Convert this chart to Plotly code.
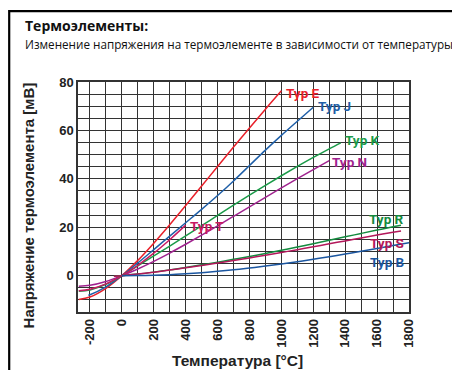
import plotly.graph_objects as go

# ---- data (thermo-voltage in mV vs temperature in °C) ----
temp_E = [-270, -200, -100, 0, 100, 200, 300, 400, 500, 600, 700, 800, 900, 1000]
volt_E = [-9.835, -8.825, -5.237, 0, 6.319, 13.421, 21.036, 28.946, 37.005, 45.093, 53.112, 61.017, 68.787, 76.373]

temp_J = [-210, -200, -100, 0, 100, 200, 300, 400, 500, 600, 700, 800, 900, 1000, 1100, 1200]
volt_J = [-8.095, -7.890, -4.633, 0, 5.269, 10.779, 16.327, 21.848, 27.393, 33.102, 39.132, 45.494, 51.877, 57.953, 63.792, 69.553]

temp_K = [-270, -200, -100, 0, 100, 200, 300, 400, 500, 600, 700, 800, 900, 1000, 1100, 1200, 1300, 1372]
volt_K = [-6.458, -5.891, -3.554, 0, 4.096, 8.138, 12.209, 16.397, 20.644, 24.905, 29.129, 33.275, 37.326, 41.276, 45.119, 48.838, 52.410, 54.886]

temp_N = [-270, -200, -100, 0, 100, 200, 300, 400, 500, 600, 700, 800, 900, 1000, 1100, 1200, 1300]
volt_N = [-4.345, -3.990, -2.407, 0, 2.774, 5.913, 9.341, 12.974, 16.748, 20.613, 24.527, 28.455, 32.371, 36.256, 40.087, 43.846, 47.513]

temp_T = [-270, -200, -100, 0, 100, 200, 300, 400]
volt_T = [-6.258, -5.603, -3.379, 0, 4.279, 9.288, 14.862, 20.872]

temp_R = [-50, 0, 100, 200, 300, 400, 500, 600, 700, 800, 900, 1000, 1100, 1200, 1300, 1400, 1500, 1600, 1700, 1750]
volt_R = [-0.226, 0, 0.647, 1.469, 2.401, 3.408, 4.471, 5.583, 6.743, 7.950, 9.205, 10.506, 11.850, 13.228, 14.629, 16.040, 17.451, 18.849, 20.222, 20.877]

temp_S = [-50, 0, 100, 200, 300, 400, 500, 600, 700, 800, 900, 1000, 1100, 1200, 1300, 1400, 1500, 1600, 1700, 1750]
volt_S = [-0.236, 0, 0.646, 1.441, 2.323, 3.259, 4.233, 5.239, 6.275, 7.345, 8.449, 9.587, 10.757, 11.951, 13.159, 14.373, 15.582, 16.777, 17.947, 18.503]

temp_B = [0, 100, 200, 300, 400, 500, 600, 700, 800, 900, 1000, 1100, 1200, 1300, 1400, 1500, 1600, 1700, 1800]
volt_B = [0, 0.033, 0.178, 0.431, 0.787, 1.242, 1.792, 2.431, 3.154, 3.957, 4.834, 5.780, 6.786, 7.848, 8.956, 10.099, 11.263, 12.433, 13.591]

series_names = ["Typ E", "Typ J", "Typ K", "Typ N", "Typ T", "Typ R", "Typ S", "Typ B"]
x_tick_vals = [-200, 0, 200, 400, 600, 800, 1000, 1200, 1400, 1600, 1800]
x_tick_text = ["-200", "0", "200", "400", "600", "800", "1000", "1200", "1400", "1600", "1800"]
y_tick_vals = [0, 20, 40, 60, 80]
y_tick_text = ["0", "20", "40", "60", "80"]

title_text = "Термоэлементы:"
subtitle_text = "Изменение напряжения на термоэлементе в зависимости от температуры"
x_title = "Температура [°C]"
y_title = "Напряжение термоэлемента [мВ]"

# ---- styling ----
colors = {
    "Typ E": "#e8202a",
    "Typ J": "#1f5fa8",
    "Typ K": "#1a9a48",
    "Typ N": "#a0238f",
    "Typ T": "#c81a62",
    "Typ R": "#138a3e",
    "Typ S": "#b3175a",
    "Typ B": "#1b56a0",
}
data = {
    "Typ E": (temp_E, volt_E),
    "Typ J": (temp_J, volt_J),
    "Typ K": (temp_K, volt_K),
    "Typ N": (temp_N, volt_N),
    "Typ T": (temp_T, volt_T),
    "Typ R": (temp_R, volt_R),
    "Typ S": (temp_S, volt_S),
    "Typ B": (temp_B, volt_B),
}
# label anchor (x, y, xanchor) in data units
label_pos = {
    "Typ E": (1015, 75.5, "left"),
    "Typ J": (1215, 70.0, "left"),
    "Typ K": (1385, 56.0, "left"),
    "Typ N": (1305, 46.9, "left"),
    "Typ T": (415, 20.6, "left"),
    "Typ R": (1782, 23.5, "right"),
    "Typ S": (1782, 13.6, "right"),
    "Typ B": (1782, 5.8, "right"),
}

X0, X1 = -275, 1800
Y0, Y1 = -15, 80

# page has an 8px body margin: figure starts at (8, 8) in the window
OFF = 8
W, H = 460 - OFF, 370 - OFF
# plot-area edges in window pixels
PL, PR, PT, PB = 77.5, 409.0, 81.7, 312.5
L, R, T, B = PL - OFF, 460 - PR, PT - OFF, 370 - PB
pw, ph = PR - PL, PB - PT

def px_to_paper_x(px):
    return (px - PL) / pw

def py_to_paper_y(py):
    return (PB - py) / ph

fig = go.Figure()
for name in series_names:
    xs, ys = data[name]
    fig.add_trace(go.Scatter(x=xs, y=ys, mode="lines", name=name,
                             line=dict(color=colors[name], width=1.5, shape="spline"),
                             showlegend=False, hoverinfo="skip"))

grid_col = "#333333"
fig.update_xaxes(range=[X0, X1], tickvals=x_tick_vals, ticktext=x_tick_text,
                 tickangle=-90, showgrid=True, gridcolor=grid_col, gridwidth=1.4,
                 minor=dict(tickvals=list(range(-200, 1801, 100)), showgrid=True,
                            gridcolor=grid_col, gridwidth=1.4),
                 showline=True, linecolor=grid_col, linewidth=1.5, mirror=True,
                 zeroline=False, ticks="", ticklen=0,
                 tickfont=dict(family="Liberation Sans", size=13, color="#222", weight="bold"))
fig.update_yaxes(range=[Y0, Y1], tickvals=y_tick_vals, ticktext=y_tick_text,
                 showgrid=True, gridcolor=grid_col, gridwidth=1.4,
                 minor=dict(tickvals=list(range(-15, 81, 5)), showgrid=True,
                            gridcolor=grid_col, gridwidth=1.4),
                 showline=True, linecolor=grid_col, linewidth=1.5, mirror=True,
                 zeroline=False, ticks="", ticklen=0,
                 tickfont=dict(family="Liberation Sans", size=13, color="#222", weight="bold"))

annotations = []
for name in series_names:
    x, y, xa = label_pos[name]
    annotations.append(dict(x=x, y=y, xref="x", yref="y", text=name, showarrow=False,
                            xanchor=xa, yanchor="middle",
                            font=dict(family="Roboto", size=13.5, color=colors[name], weight="bold")))

annotations += [
    dict(x=px_to_paper_x(22), y=py_to_paper_y(25), xref="paper", yref="paper",
         text=title_text, showarrow=False, xanchor="left", yanchor="middle",
         font=dict(family="Open Sans", size=14, color="#111", weight="bold")),
    dict(x=px_to_paper_x(22), y=py_to_paper_y(43.5), xref="paper", yref="paper",
         text=subtitle_text, showarrow=False, xanchor="left", yanchor="middle",
         font=dict(family="Open Sans", size=11.7, color="#111")),
    dict(x=px_to_paper_x(237.5), y=py_to_paper_y(361), xref="paper", yref="paper",
         text=x_title, showarrow=False, xanchor="center", yanchor="middle",
         font=dict(family="Liberation Sans", size=15.5, color="#222", weight="bold")),
    dict(x=px_to_paper_x(28), y=py_to_paper_y(206), xref="paper", yref="paper",
         text=y_title, showarrow=False, xanchor="center", yanchor="middle", textangle=-90,
         font=dict(family="Liberation Sans", size=15, color="#222", weight="bold")),
]

shapes = [
    dict(type="line", xref="paper", yref="paper",
         x0=px_to_paper_x(8.3), x1=px_to_paper_x(462), y0=py_to_paper_y(10.5), y1=py_to_paper_y(10.5),
         line=dict(color="#000", width=2.2)),
    dict(type="line", xref="paper", yref="paper",
         x0=px_to_paper_x(8.6), x1=px_to_paper_x(8.6), y0=py_to_paper_y(9.4), y1=py_to_paper_y(372),
         line=dict(color="#000", width=2.2)),
]

fig.update_layout(width=W, height=H, margin=dict(l=L, r=R, t=T, b=B, pad=0),
                  paper_bgcolor="white", plot_bgcolor="white",
                  annotations=annotations, shapes=shapes)

fig.write_html("out.html")
